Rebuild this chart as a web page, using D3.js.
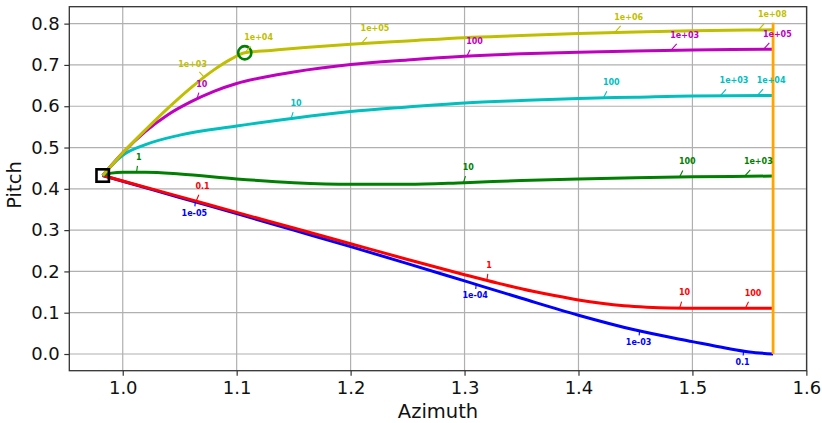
<!DOCTYPE html>
<html>
<head>
<meta charset="utf-8">
<script src="https://cdn.jsdelivr.net/npm/d3@7"></script>
<style>
  body { margin: 0; background: #fff; }
  text { font-family: "DejaVu Sans", sans-serif; }
</style>
</head>
<body>
<div id="chart"></div>
<script>
// Axis ticks
const azTicks = [1.0, 1.1, 1.2, 1.3, 1.4, 1.5, 1.6];
const pitchTicks = [0.0, 0.1, 0.2, 0.3, 0.4, 0.5, 0.6, 0.7, 0.8];

// Start point (square), kink point (circle), wall at pi/2
const startPoint = [0.9824, 0.4322];
const circlePoint = [1.1071, 0.7295];
const wallLine = [[1.5708, 0.0], [1.5708, 0.802]];

// Curves: [azimuth, pitch]
const blueCurve = [[0.9824, 0.4322], [1.0, 0.4185], [1.05, 0.379], [1.1, 0.340], [1.15, 0.300],
  [1.2, 0.260], [1.25, 0.219], [1.3, 0.177], [1.35, 0.135], [1.4, 0.094], [1.45, 0.058],
  [1.5, 0.030], [1.53, 0.014], [1.55, 0.005], [1.5708, 0.0]];
const redCurve = [[0.9824, 0.4322], [1.0, 0.419], [1.05, 0.381], [1.1, 0.343], [1.15, 0.305],
  [1.2, 0.267], [1.25, 0.229], [1.3, 0.192], [1.33, 0.171], [1.36, 0.152], [1.38, 0.141],
  [1.4, 0.131], [1.42, 0.123], [1.44, 0.117], [1.46, 0.1135], [1.48, 0.1115],
  [1.5, 0.111], [1.5708, 0.111]];
const greenCurve = [[0.9824, 0.4322], [0.99, 0.438], [1.0, 0.440], [1.02, 0.440], [1.05, 0.436],
  [1.1, 0.424], [1.15, 0.415], [1.2, 0.411], [1.25, 0.411], [1.3, 0.415], [1.35, 0.420],
  [1.4, 0.424], [1.45, 0.427], [1.5, 0.429], [1.5708, 0.431]];
const cyanCurve = [[0.9824, 0.4322], [0.99, 0.456], [1.0, 0.481], [1.02, 0.507], [1.05, 0.530],
  [1.1, 0.552], [1.15, 0.571], [1.2, 0.587], [1.25, 0.598], [1.3, 0.608], [1.35, 0.614],
  [1.4, 0.619], [1.45, 0.622], [1.5, 0.625], [1.5708, 0.626]];
const magentaCurve = [[0.9824, 0.4322], [1.0, 0.487], [1.02, 0.539], [1.04, 0.580], [1.06, 0.611],
  [1.08, 0.636], [1.1, 0.655], [1.125, 0.671], [1.15, 0.683], [1.2, 0.701], [1.25, 0.712],
  [1.3, 0.721], [1.35, 0.727], [1.4, 0.731], [1.45, 0.734], [1.5, 0.736], [1.5708, 0.738]];
const yellowCurve = [[0.9824, 0.4322], [1.0, 0.487], [1.02, 0.543], [1.04, 0.596], [1.06, 0.645],
  [1.08, 0.688], [1.095, 0.714], [1.1071, 0.7295], [1.13, 0.735], [1.16, 0.742], [1.2, 0.750],
  [1.25, 0.758], [1.3, 0.766], [1.35, 0.771], [1.4, 0.776], [1.45, 0.780], [1.5, 0.783],
  [1.5708, 0.785]];

// Inline labels: [azimuth, text, placement]
const blueLabels = [[1.0637, "1e-05", "below"], [1.3102, "1e-04", "below"],
  [1.4536, "1e-03", "below"], [1.5449, "0.1", "below"]];
const redLabels = [[1.0644, "0.1", "above"], [1.3196, "1", "above"],
  [1.4887, "10", "above"], [1.5464, "100", "above"]];
const greenLabels = [[1.0121, "1", "above"], [1.299, "10", "above"],
  [1.4887, "100", "above"], [1.5457, "1e+03", "above"]];
const cyanLabels = [[1.1477, "10", "above"], [1.422, "100", "above"],
  [1.5244, "1e+03", "above"], [1.5569, "1e+04", "above"]];
const magentaLabels = [[1.065, "10", "above"], [1.302, "100", "above"],
  [1.4811, "1e+03", "above"], [1.5624, "1e+05", "above"]];
const yellowLabels = [[1.0716, "1e+03", "left"], [1.1071, "1e+04", "above"],
  [1.2093, "1e+05", "above"], [1.4319, "1e+06", "above"], [1.558, "1e+08", "above"]];

const series = [
  { pts: blueCurve, labels: blueLabels, color: "#0000ff" },
  { pts: redCurve, labels: redLabels, color: "#ff0000" },
  { pts: greenCurve, labels: greenLabels, color: "#008000" },
  { pts: cyanCurve, labels: cyanLabels, color: "#00bfbf" },
  { pts: magentaCurve, labels: magentaLabels, color: "#bf00bf" },
  { pts: yellowCurve, labels: yellowLabels, color: "#bfbf00" }
];

const width = 822, height = 423;
const margin = { top: 6.7, right: 15.3, bottom: 52.3, left: 69.3 };

const svg = d3.select("#chart").append("svg")
  .attr("width", width)
  .attr("height", height);

const x = d3.scaleLinear().domain([0.9531, 1.6003]).range([margin.left, width - margin.right]);
const y = d3.scaleLinear().domain([-0.0404, 0.841]).range([height - margin.bottom, margin.top]);

// Grid
const grid = svg.append("g").attr("stroke", "#b0b0b0").attr("stroke-width", 1.2);
grid.selectAll(".gx").data(azTicks).join("line")
  .attr("x1", d => x(d)).attr("x2", d => x(d))
  .attr("y1", margin.top).attr("y2", height - margin.bottom);
grid.selectAll(".gy").data(pitchTicks).join("line")
  .attr("x1", margin.left).attr("x2", width - margin.right)
  .attr("y1", d => y(d)).attr("y2", d => y(d));

// Axes
const xAxis = svg.append("g")
  .attr("transform", `translate(0,${height - margin.bottom})`)
  .call(d3.axisBottom(x).tickValues(azTicks).tickFormat(d3.format(".1f")).tickSize(5).tickPadding(6));
const yAxis = svg.append("g")
  .attr("transform", `translate(${margin.left},0)`)
  .call(d3.axisLeft(y).tickValues(pitchTicks).tickFormat(d3.format(".1f")).tickSize(5).tickPadding(4.5));
[xAxis, yAxis].forEach(a => {
  a.select(".domain").remove();
  a.selectAll(".tick line").attr("stroke", "#333").attr("stroke-width", 1.2);
  a.selectAll(".tick text").attr("font-size", 18).attr("fill", "#111")
    .style("font-family", "'DejaVu Sans', sans-serif");
});

// Curves
const line = d3.line()
  .x(d => x(d[0]))
  .y(d => y(d[1]))
  .curve(d3.curveMonotoneX);

const plot = svg.append("g");
plot.selectAll("path.curve")
  .data(series)
  .join("path")
  .attr("class", "curve")
  .attr("fill", "none")
  .attr("stroke", d => d.color)
  .attr("stroke-width", 3)
  .attr("d", d => line(d.pts));

// Wall at pi/2
plot.append("path")
  .attr("fill", "none")
  .attr("stroke", "#ffa500")
  .attr("stroke-width", 2.8)
  .attr("d", d3.line().x(d => x(d[0])).y(d => y(d[1]))(wallLine));

// Markers
plot.append("circle")
  .attr("cx", x(circlePoint[0])).attr("cy", y(circlePoint[1]))
  .attr("r", 6.6)
  .attr("fill", "none").attr("stroke", "#008000").attr("stroke-width", 2.6);
plot.append("rect")
  .attr("x", x(startPoint[0]) - 6.2).attr("y", y(startPoint[1]) - 6.2)
  .attr("width", 12.4).attr("height", 12.4)
  .attr("fill", "none").attr("stroke", "#000").attr("stroke-width", 2.6);

// Linear lookup of pitch on a curve at a given azimuth
function pitchAt(pts, az) {
  for (let i = 1; i < pts.length; i++) {
    if (az <= pts[i][0]) {
      const t = (az - pts[i - 1][0]) / (pts[i][0] - pts[i - 1][0]);
      return pts[i - 1][1] + t * (pts[i][1] - pts[i - 1][1]);
    }
  }
  return pts[pts.length - 1][1];
}

// Inline labels with short leader ticks
const labelLayer = svg.append("g");
series.forEach(s => {
  s.labels.forEach(([az, txt, side]) => {
    const px = x(az), py = y(pitchAt(s.pts, az));
    const t = labelLayer.append("text")
      .attr("font-size", 8)
      .attr("font-weight", "bold")
      .attr("fill", s.color)
      .text(txt);
    let cx, cy, reach;
    if (side === "below") {
      t.attr("text-anchor", "middle").attr("x", px - 1).attr("y", py + 13.9);
      cx = px - 1; cy = py + 11; reach = 4.5;
    } else if (side === "left") {
      t.attr("text-anchor", "end").attr("x", px + 2.7).attr("y", py - 10.1);
      const w = t.node().getComputedTextLength();
      cx = px + 2.7 - w / 2; cy = py - 13; reach = 5.5;
    } else {
      t.attr("text-anchor", "start").attr("x", px - 0.6).attr("y", py - 12.6);
      const w = t.node().getComputedTextLength();
      cx = px - 0.6 + w / 2; cy = py - 15.5; reach = 6.5;
    }
    const k = reach / Math.abs(cy - py);
    labelLayer.append("line")
      .attr("x1", px).attr("y1", py)
      .attr("x2", px + (cx - px) * k).attr("y2", py + (cy - py) * k)
      .attr("stroke", s.color).attr("stroke-width", 1.1);
  });
});

// Frame
svg.append("rect")
  .attr("x", margin.left).attr("y", margin.top)
  .attr("width", width - margin.left - margin.right)
  .attr("height", height - margin.top - margin.bottom)
  .attr("fill", "none").attr("stroke", "#333").attr("stroke-width", 1.3);

// Axis titles
svg.append("text")
  .attr("x", (margin.left + width - margin.right) / 2)
  .attr("y", 418)
  .attr("text-anchor", "middle")
  .attr("font-size", 19.5)
  .attr("fill", "#111")
  .text("Azimuth");
svg.append("text")
  .attr("transform", `translate(20.5,185) rotate(-90)`)
  .attr("text-anchor", "middle")
  .attr("font-size", 19.5)
  .attr("fill", "#111")
  .text("Pitch");
</script>
</body>
</html>
